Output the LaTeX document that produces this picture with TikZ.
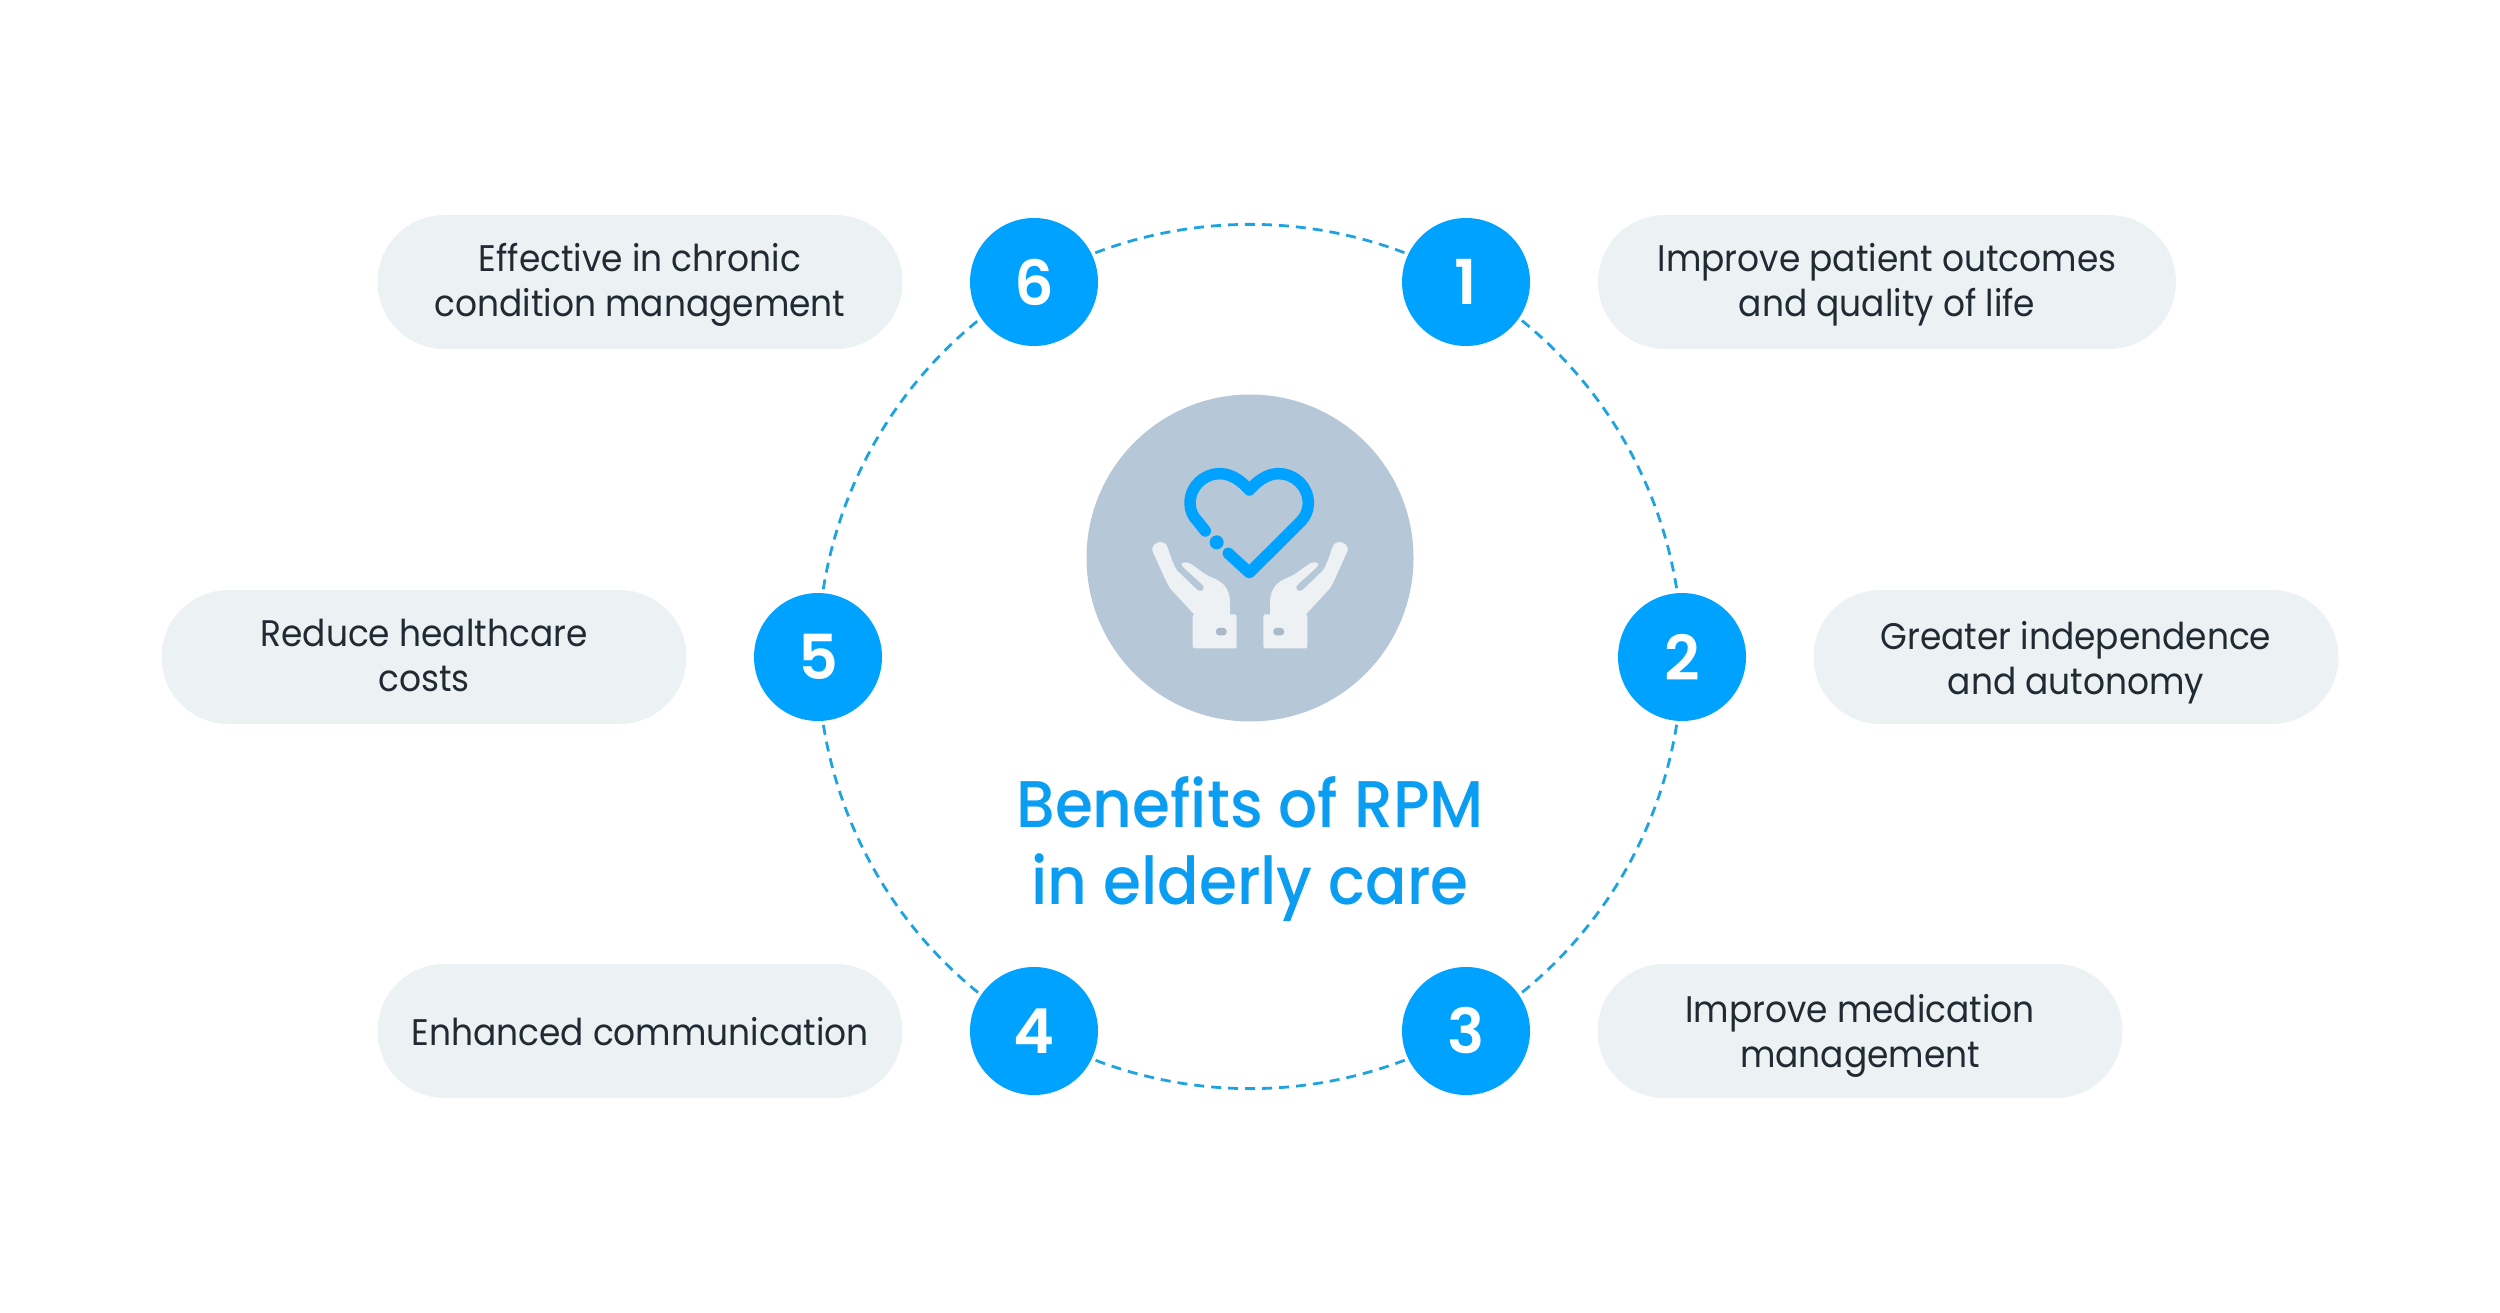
\documentclass[tikz,border=0pt]{standalone}
\usepackage{fontspec}
\usetikzlibrary{backgrounds,shapes.misc}
\setmainfont[FakeStretch=0.93]{Poppins}
\newfontfamily\titlefont[FakeStretch=0.93]{Poppins Medium}
\newfontfamily\numfont{Poppins SemiBold}
\definecolor{bluemain}{HTML}{00A2FF}
\definecolor{titleblue}{HTML}{0B9DF2}
\definecolor{ringblue}{HTML}{1FA3E0}
\definecolor{pillgrey}{HTML}{ECF1F4}
\definecolor{inkdark}{HTML}{1F2A33}
\definecolor{discblue}{HTML}{B6C7D8}
\definecolor{handpale}{HTML}{EDF1F4}
\definecolor{btngrey}{HTML}{A9B9C7}
\tikzset{
  pill/.style={rounded rectangle,fill=pillgrey,text=inkdark,inner sep=0pt,minimum height=134pt,
    align=center,font=\fontsize{37}{45}\selectfont},
  numdisc/.style={circle,fill=bluemain,text=white,inner sep=0pt,minimum size=128pt,
    font=\numfont\fontsize{62}{62}\selectfont},
  ringline/.style={draw=ringblue,line width=2.8pt,dash pattern=on 10pt off 7pt},
  arcstep/.style={bend left=30,looseness=0.912},
  heartline/.style={draw=bluemain,line width=11.5pt,line cap=round,line join=round},
}
\newcommand{\lifted}[2]{\raisebox{#1}[\height][\depth]{\begin{tabular}{@{}c@{}}#2\end{tabular}}}
\newcommand{\handshape}{%
  \fill[handpale,rounded corners=1.5pt] (398,703) rectangle (530,805);
  \fill[handpale] (405,706) -- (330,625) .. controls (315,600) and (295,550) .. (278,515)
     .. controls (268,490) and (315,470) .. (324,505)
     .. controls (332,530) and (340,555) .. (352,572)
     -- (412,630) .. controls (425,640) and (440,625) .. (425,612)
     -- (370,562) .. controls (358,550) and (368,545) .. (385,548)
     .. controls (405,558) and (425,578) .. (450,590)
     .. controls (490,605) and (510,625) .. (510,670) -- (510,706) -- cycle;
  \fill[btngrey,rounded corners=3pt] (468,744) rectangle (500,766);
}
\begin{document}
\begin{tikzpicture}[x=1pt,y=-1pt]
\useasboundingbox (0,0) rectangle (2500,1313);
\node[circle,fill=discblue,inner sep=0pt,minimum size=327pt] (disc) at (1250,558) {};
\node[numdisc] (n1) at (1466,282) {1};
\node[numdisc] (n2) at (1682,657) {2};
\node[numdisc] (n3) at (1466,1031) {3};
\node[numdisc] (n4) at (1034,1031) {4};
\node[numdisc] (n5) at (818,657) {5};
\node[numdisc] (n6) at (1034,282) {6};
\begin{scope}[on background layer]
\path[ringline] (n6.center) to[arcstep] (n1.center);
\path[ringline] (n1.center) to[arcstep] (n2.center);
\path[ringline] (n2.center) to[arcstep] (n3.center);
\path[ringline] (n3.center) to[arcstep] (n4.center);
\path[ringline] (n4.center) to[arcstep] (n5.center);
\path[ringline] (n5.center) to[arcstep] (n6.center);
\end{scope}
\node[pill,minimum width=578pt] (p1) at (1887,282) {\lifted{-3pt}{Improve patient outcomes\\and quality of life}};
\node[pill,minimum width=525pt] (p2) at (2076,657) {\lifted{-6.4pt}{Greater independence\\and autonomy}};
\node[pill,minimum width=525pt] (p3) at (1860,1031) {\lifted{-4.5pt}{Improve medication\\management}};
\node[pill,minimum width=525pt] (p4) at (640,1031) {\lifted{-5pt}{Enhanced communication}};
\node[pill,minimum width=525pt] (p5) at (424,657) {\lifted{-3pt}{Reduce healthcare\\costs}};
\node[pill,minimum width=525pt] (p6) at (640,282) {\lifted{-3pt}{Effective in chronic\\condition management}};
\node[align=center,text=titleblue,inner sep=0pt,font=\titlefont\fontsize{66}{76.5}\selectfont] (title) at (1250,849) {Benefits of RPM\\in elderly care};
\begin{scope}[shift={(1060,380)},x=0.33333pt,y=-0.33333pt]
  \handshape
  \begin{scope}[xshift=1140pt*0.33333,xscale=-1]
    \handshape
  \end{scope}
  \draw[heartline] (505,520) -- (568,578) -- (722,425)
    .. controls (736,410) and (745,392) .. (745,370)
    .. controls (745,320) and (705,281) .. (655,281)
    .. controls (620,281) and (590,305) .. (568,330)
    .. controls (546,305) and (516,281) .. (480,281)
    .. controls (430,281) and (390,320) .. (390,370)
    .. controls (390,392) and (400,412) .. (414,425)
    -- (436,453);
  \fill[bluemain] (470,487) circle (21);
\end{scope}
\end{tikzpicture}
\end{document}
